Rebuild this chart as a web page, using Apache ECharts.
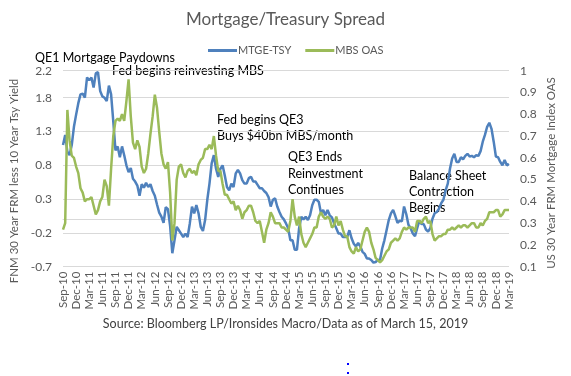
<!DOCTYPE html>
<html>
<head>
<meta charset="utf-8">
<script src="https://cdn.jsdelivr.net/npm/echarts@6/dist/echarts.min.js"></script>
<style>
html, body { margin: 0; padding: 0; background: #fff; }
#chart { width: 571px; height: 376px; }
</style>
</head>
<body>
<div id="chart"></div>
<script>
var monthNames = ['Jan', 'Feb', 'Mar', 'Apr', 'May', 'Jun', 'Jul', 'Aug', 'Sep', 'Oct', 'Nov', 'Dec'];

// two readings per month, Sep-10 to Mar-19
var dates = [];
for (var k = 0; k < 205; k++) {
    var m = 8 + Math.floor(k / 2);
    var yr = 2010 + Math.floor(m / 12);
    dates.push(monthNames[m % 12] + '-' + String(yr).slice(2) + (k % 2 ? ' mid' : ''));
}

// FNM 30y FRM less 10y Tsy yield (left axis)
var mtgeTsy = [
    1.10, 1.25, 1.00, 0.95, 1.10, 1.37, 1.55, 1.72, 1.85, 1.86,
    1.80, 2.10, 2.06, 2.10, 1.95, 2.16, 2.18, 1.90, 1.82, 1.80,
    1.75, 1.98, 1.85, 1.45, 1.02, 1.08, 0.92, 1.08, 0.95, 0.80,
    0.70, 0.76, 0.60, 0.56, 0.50, 0.35, 0.52, 0.47, 0.54, 0.48,
    0.52, 0.42, 0.35, 0.22, 0.10, 0.04, -0.05, 0.18, 0.15, -0.10,
    -0.50, -0.31, -0.11, -0.16, -0.21, -0.26, -0.21, -0.26, -0.06, 0.19,
    0.09, 0.21, 0.09, -0.11, -0.17, -0.01, 0.29, 0.53, 0.83, 0.95,
    0.75, 0.63, 0.75, 0.80, 0.65, 0.48, 0.43, 0.53, 0.48, 0.68,
    0.73, 0.68, 0.58, 0.53, 0.53, 0.61, 0.63, 0.56, 0.56, 0.51,
    0.46, 0.46, 0.42, 0.39, 0.33, 0.19, 0.29, 0.31, 0.19, 0.11,
    0.04, 0.00, -0.06, -0.13, -0.31, -0.31, -0.45, -0.45, -0.13, 0.04,
    0.00, 0.04, -0.01, 0.06, 0.21, 0.29, 0.29, 0.26, 0.09, 0.14,
    0.06, 0.14, 0.06, 0.03, -0.06, -0.13, -0.21, -0.21, -0.26, -0.26,
    -0.26, -0.16, -0.28, -0.36, -0.40, -0.35, -0.40, -0.48, -0.51, -0.58,
    -0.58, -0.60, -0.64, -0.63, -0.60, -0.60, -0.43, -0.31, -0.16, -0.01,
    0.09, 0.14, 0.05, -0.05, -0.02, -0.03, 0.19, 0.08, -0.08, -0.13,
    -0.21, -0.25, -0.13, -0.02, -0.07, -0.07, -0.15, -0.18, -0.13, 0.01,
    0.09, 0.11, 0.16, 0.24, 0.29, 0.43, 0.53, 0.75, 0.90, 0.97,
    0.85, 0.85, 0.92, 0.89, 0.94, 0.97, 0.93, 0.94, 0.92, 0.95,
    0.94, 1.01, 1.15, 1.25, 1.37, 1.43, 1.34, 1.15, 0.93, 0.92,
    0.85, 0.80, 0.88, 0.80, 0.82
];

// US 30y FRM mortgage index OAS (right axis)
var mbsOas = [
    0.27, 0.30, 0.82, 0.68, 0.61, 0.60, 0.56, 0.53, 0.46, 0.44,
    0.40, 0.41, 0.41, 0.42, 0.38, 0.34, 0.36, 0.40, 0.42, 0.50,
    0.47, 0.38, 0.55, 0.70, 0.77, 0.78, 0.77, 0.80, 0.77, 0.86,
    0.96, 0.79, 0.67, 0.64, 0.68, 0.65, 0.56, 0.53, 0.55, 0.62,
    0.71, 0.79, 0.89, 0.83, 0.72, 0.62, 0.57, 0.55, 0.58, 0.44,
    0.22, 0.30, 0.50, 0.56, 0.57, 0.53, 0.51, 0.54, 0.55, 0.53,
    0.54, 0.52, 0.57, 0.59, 0.60, 0.64, 0.64, 0.66, 0.64, 0.70,
    0.61, 0.54, 0.54, 0.48, 0.43, 0.43, 0.41, 0.39, 0.40, 0.36,
    0.38, 0.36, 0.32, 0.35, 0.36, 0.38, 0.38, 0.35, 0.31, 0.30,
    0.31, 0.26, 0.21, 0.27, 0.30, 0.35, 0.33, 0.30, 0.30, 0.30,
    0.28, 0.28, 0.27, 0.26, 0.31, 0.41, 0.33, 0.29, 0.33, 0.25,
    0.21, 0.19, 0.21, 0.23, 0.25, 0.28, 0.28, 0.33, 0.35, 0.33,
    0.32, 0.33, 0.32, 0.28, 0.29, 0.33, 0.29, 0.31, 0.27, 0.24,
    0.24, 0.19, 0.17, 0.16, 0.19, 0.17, 0.18, 0.22, 0.26, 0.28,
    0.26, 0.21, 0.18, 0.14, 0.13, 0.12, 0.13, 0.15, 0.17, 0.18,
    0.21, 0.22, 0.23, 0.22, 0.23, 0.26, 0.28, 0.27, 0.28, 0.28,
    0.28, 0.26, 0.31, 0.31, 0.30, 0.32, 0.33, 0.30, 0.31, 0.25,
    0.22, 0.23, 0.24, 0.24, 0.25, 0.25, 0.27, 0.27, 0.28, 0.27,
    0.28, 0.29, 0.28, 0.29, 0.29, 0.28, 0.29, 0.30, 0.30, 0.28,
    0.28, 0.30, 0.29, 0.31, 0.32, 0.35, 0.35, 0.35, 0.36, 0.36,
    0.33, 0.34, 0.36, 0.36, 0.36
];

var notes = [
    { text: 'QE1 Mortgage Paydowns', x: 35, y: 59 },
    { text: 'Fed begins reinvesting MBS', x: 112, y: 72 },
    { text: 'Fed begins QE3', x: 217, y: 121 },
    { text: 'Buys $40bn MBS/month', x: 217, y: 137 },
    { text: 'QE3 Ends', x: 288, y: 158 },
    { text: 'Reinvestment', x: 288, y: 175 },
    { text: 'Continues', x: 288, y: 191 },
    { text: 'Balance Sheet', x: 409, y: 177 },
    { text: 'Contraction', x: 409, y: 193 },
    { text: 'Begins', x: 409, y: 209 }
];

var font = 'Lato, "Open Sans", sans-serif';
var grey = '#595959';

var graphics = notes.map(function (n) {
    return {
        type: 'text', left: n.x, top: n.y - 8,
        style: { text: n.text, fill: '#000', font: '12.5px ' + font }
    };
});
// axis titles
graphics.push({
    type: 'text', x: 14, y: 181, rotation: Math.PI / 2,
    style: { text: 'FNM 30 Year FRM less 10 Year Tsy Yield', fill: grey, font: '11.5px ' + font,
             align: 'center', verticalAlign: 'middle' }
});
graphics.push({
    type: 'text', x: 551, y: 173, rotation: Math.PI / 2,
    style: { text: 'US 30 Year FRM Mortgage Index OAS', fill: grey, font: '11.5px ' + font,
             align: 'center', verticalAlign: 'middle' }
});
graphics.push({
    type: 'text', left: 'center', top: 317,
    style: { text: 'Source: Bloomberg LP/Ironsides Macro/Data as of March 15, 2019', fill: '#404040', font: '12.5px ' + font }
});
graphics.push({ type: 'rect', shape: { x: 347, y: 363, width: 2, height: 2 }, style: { fill: '#0000ff' } });
graphics.push({ type: 'rect', shape: { x: 347, y: 372, width: 2, height: 2 }, style: { fill: '#0000ff' } });

var myChart = echarts.init(document.getElementById('chart'));
var option = {
    backgroundColor: '#fff',
    animation: false,
    title: {
        text: 'Mortgage/Treasury Spread',
        left: 'center',
        top: 6,
        textStyle: { color: grey, fontSize: 17, fontWeight: 'normal', fontFamily: font }
    },
    legend: {
        top: 40,
        left: 203,
        icon: 'rect',
        itemWidth: 29,
        itemHeight: 3,
        itemGap: 14,
        textStyle: { color: grey, fontSize: 11, fontFamily: font, padding: [0, 0, 0, -4] },
        data: ['MTGE-TSY', 'MBS OAS']
    },
    grid: { left: 63, right: 62, top: 70.7, bottom: 109.3 },
    xAxis: {
        type: 'category',
        data: dates,
        boundaryGap: false,
        axisLine: { lineStyle: { color: '#d9d9d9' } },
        axisTick: { show: false },
        axisLabel: {
            rotate: 90,
            color: grey,
            fontSize: 11.5,
            fontFamily: font,
            margin: 5,
            interval: function (idx) { return idx % 6 === 0; },
            formatter: function (v) { return v.split(' ')[0]; }
        }
    },
    yAxis: [
        {
            type: 'value',
            min: -0.7,
            max: 2.2,
            interval: 0.5,
            axisLine: { show: false },
            axisTick: { show: false },
            axisLabel: { color: grey, fontSize: 12, fontFamily: font, margin: 11 },
            splitLine: { lineStyle: { color: '#d9d9d9' } }
        },
        {
            type: 'value',
            min: 0.1,
            max: 1.0,
            interval: 0.1,
            axisLine: { show: false },
            axisTick: { show: false },
            axisLabel: { color: grey, fontSize: 12, fontFamily: font, margin: 11 },
            splitLine: { show: false }
        }
    ],
    series: [
        {
            name: 'MTGE-TSY',
            type: 'line',
            yAxisIndex: 0,
            data: mtgeTsy,
            showSymbol: false,
            symbol: 'none',
            lineStyle: { color: '#4f81bd', width: 2.5 },
            itemStyle: { color: '#4f81bd' }
        },
        {
            name: 'MBS OAS',
            type: 'line',
            yAxisIndex: 1,
            data: mbsOas,
            showSymbol: false,
            symbol: 'none',
            lineStyle: { color: '#9bbb59', width: 2.5 },
            itemStyle: { color: '#9bbb59' }
        }
    ],
    graphic: graphics
};
myChart.setOption(option);
</script>
</body>
</html>
